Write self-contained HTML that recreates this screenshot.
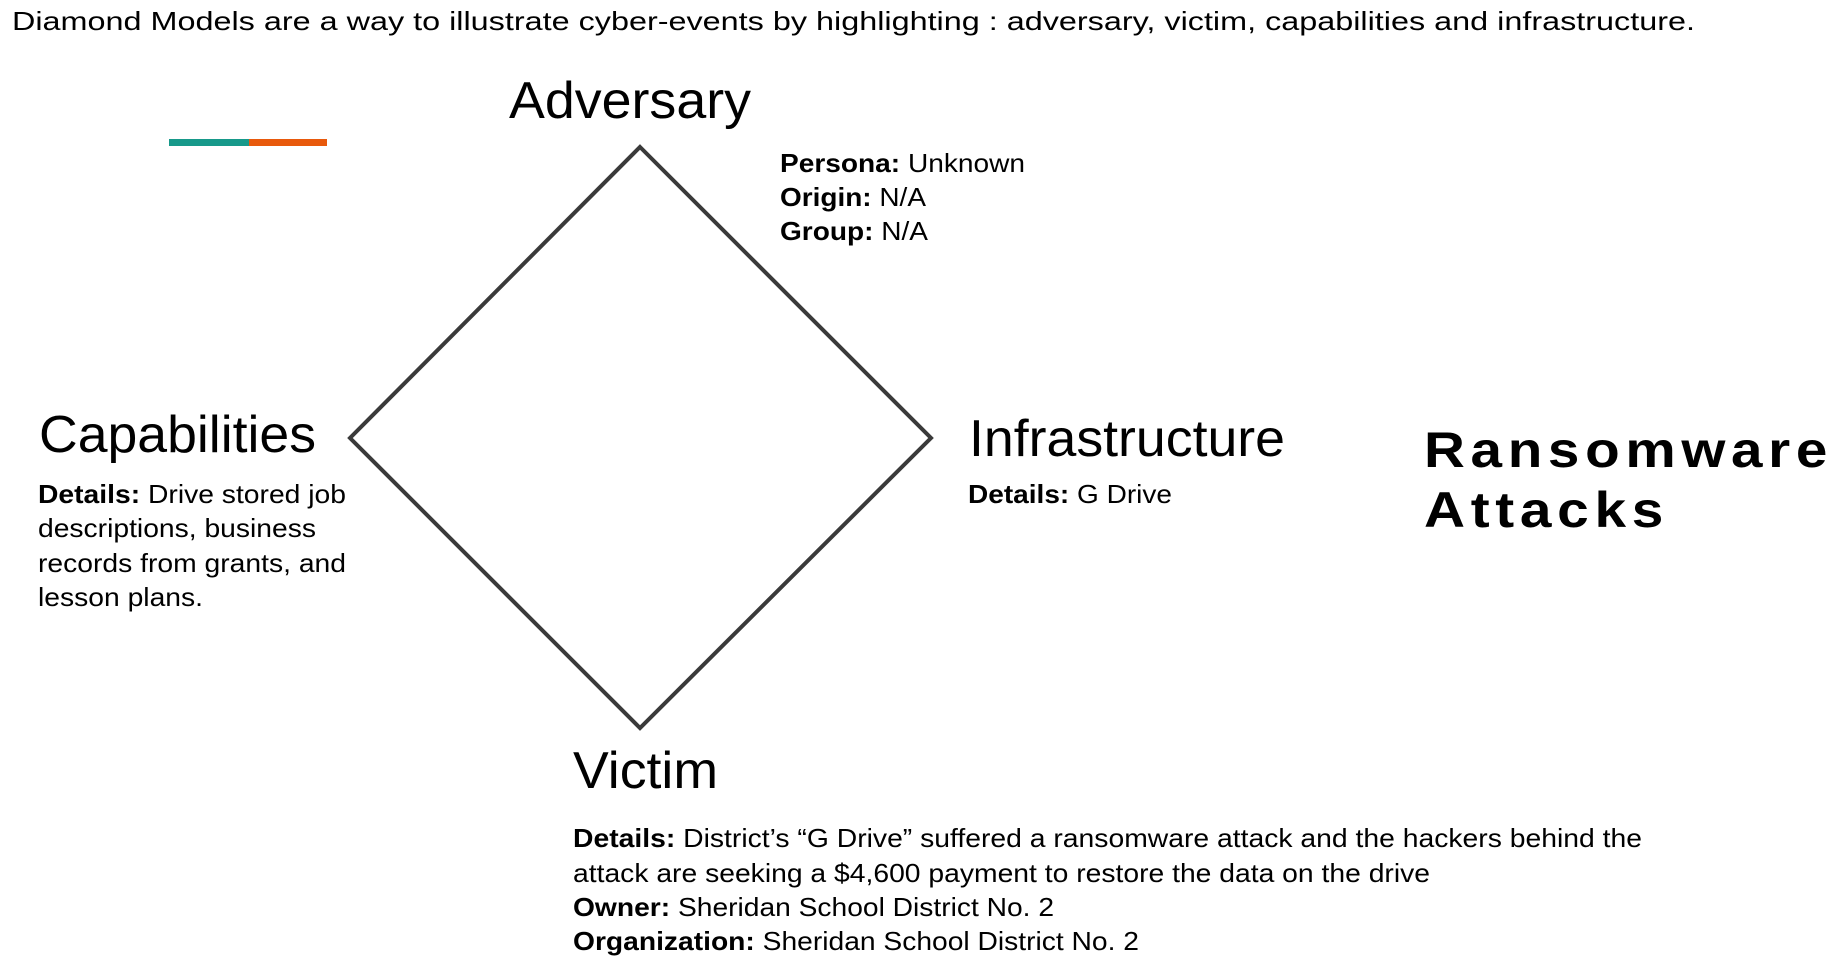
<!DOCTYPE html>
<html><head><meta charset="utf-8"><style>
html,body{margin:0;padding:0;background:#fff;}
svg{display:block;}
text{font-family:"Liberation Sans",Arial,sans-serif;fill:#000;}
</style></head><body>
<svg width="1848" height="958" viewBox="0 0 1848 958" xmlns="http://www.w3.org/2000/svg">
<rect width="1848" height="958" fill="#fff"/>
<text x="12" y="30" font-size="26" textLength="1683" lengthAdjust="spacingAndGlyphs">Diamond Models are a way to illustrate cyber-events by highlighting : adversary, victim, capabilities and infrastructure.</text>
<rect x="169" y="139" width="80" height="7" fill="#17998a"/>
<rect x="249" y="139" width="78" height="7" fill="#e8590c"/>
<polygon points="640,147 931,438 640,728 350,438" fill="none" stroke="#3a3a3a" stroke-width="4"/>
<text x="509" y="118" font-size="52" textLength="242" lengthAdjust="spacingAndGlyphs">Adversary</text>
<g font-size="26">
<text x="780" y="172" textLength="245" lengthAdjust="spacingAndGlyphs"><tspan font-weight="bold">Persona:</tspan> Unknown</text>
<text x="780" y="206" textLength="146" lengthAdjust="spacingAndGlyphs"><tspan font-weight="bold">Origin:</tspan> N/A</text>
<text x="780" y="240" textLength="148" lengthAdjust="spacingAndGlyphs"><tspan font-weight="bold">Group:</tspan> N/A</text>
</g>
<text x="39" y="452" font-size="52" textLength="277" lengthAdjust="spacingAndGlyphs">Capabilities</text>
<g font-size="26">
<text x="38" y="503" textLength="308" lengthAdjust="spacingAndGlyphs"><tspan font-weight="bold">Details:</tspan> Drive stored job</text>
<text x="38" y="537" textLength="278" lengthAdjust="spacingAndGlyphs">descriptions, business</text>
<text x="38" y="572" textLength="308" lengthAdjust="spacingAndGlyphs">records from grants, and</text>
<text x="38" y="606" textLength="165" lengthAdjust="spacingAndGlyphs">lesson plans.</text>
</g>
<text x="969" y="456" font-size="52" textLength="316" lengthAdjust="spacingAndGlyphs">Infrastructure</text>
<text x="968" y="503" font-size="26" textLength="204" lengthAdjust="spacingAndGlyphs"><tspan font-weight="bold">Details:</tspan> G Drive</text>
<text x="1424" y="467" font-size="50" font-weight="bold" textLength="409" lengthAdjust="spacingAndGlyphs" letter-spacing="5" fill="#1a1a1a">Ransomware</text>
<text x="1424" y="527" font-size="50" font-weight="bold" textLength="245" lengthAdjust="spacingAndGlyphs" letter-spacing="5" fill="#1a1a1a">Attacks</text>
<text x="573" y="788" font-size="52" textLength="145" lengthAdjust="spacingAndGlyphs">Victim</text>
<g font-size="26">
<text x="573" y="847" textLength="1069" lengthAdjust="spacingAndGlyphs"><tspan font-weight="bold">Details:</tspan> District’s “G Drive” suffered a ransomware attack and the hackers behind the</text>
<text x="573" y="882" textLength="857" lengthAdjust="spacingAndGlyphs">attack are seeking a $4,600 payment to restore the data on the drive</text>
<text x="573" y="916" textLength="481" lengthAdjust="spacingAndGlyphs"><tspan font-weight="bold">Owner:</tspan> Sheridan School District No. 2</text>
<text x="573" y="950" textLength="566" lengthAdjust="spacingAndGlyphs"><tspan font-weight="bold">Organization:</tspan> Sheridan School District No. 2</text>
</g>
</svg>
</body></html>
